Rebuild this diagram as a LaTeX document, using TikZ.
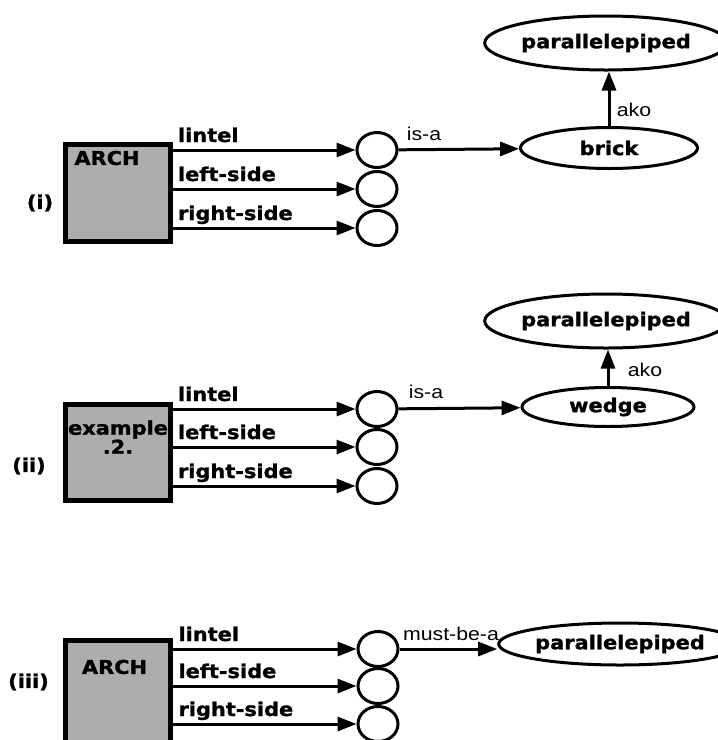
\documentclass[tikz,border=0pt]{standalone}
\usepackage{fontspec}
\setmainfont{Liberation Sans}
\newfontfamily\chicago{DejaVu Sans}[FakeStretch=1.1, FakeBold=1.3]
\newfontfamily\geneva{Liberation Sans}[FakeStretch=1.15]
\usetikzlibrary{arrows.meta,shapes.geometric}

\tikzset{
  boxtext/.style={font=\chicago\bfseries\fontsize{19}{20}\selectfont, inner sep=1pt},
  reltext/.style={font=\geneva\fontsize{18.5}{20}\selectfont, inner sep=1pt},
  frame/.style={draw, line width=5pt, fill=black!32, minimum width=105pt, inner sep=0pt},
  slot/.style={draw, ellipse, line width=3pt, minimum width=40pt, minimum height=35pt, inner sep=0pt},
  concept/.style={draw, ellipse, line width=3pt, fill=white, inner sep=0pt, boxtext},
  link/.style={line width=3pt, -{Triangle[length=19pt,width=14pt]}},
}

\begin{document}
\begin{tikzpicture}[x=1pt, y=-1pt]
\useasboundingbox (0,0) rectangle (718,740);
\clip (0,0) rectangle (718,740);

% (i) ARCH with brick lintel
\node [frame, minimum height=97pt] (arch1) at (117.5,192.5) {};
\node [boxtext] (name1) at (107,158) {ARCH};
\node [boxtext] (tag1) at (40,203) {(i)};
\foreach \n/\y/\t in {1/150/lintel, 2/189/left-side, 3/228/right-side}{
    \node [slot] (s1\n) at (377,\y) {};
    \draw [link] (arch1.east |- s1\n) -- node [boxtext, anchor=base west, pos=0, xshift=3pt, yshift=8pt] (r1\n) {\t} (s1\n);
}
\node [concept, minimum width=177pt, minimum height=41pt] (brick) at (609,148) {brick};
\node [concept, minimum width=203pt, minimum height=54pt] (par1) at (606,43) {parallelepiped};
\draw [link] (s11) -- (brick);
\draw [link] (brick.north) -- (brick.north |- par1.south);
\node [reltext] (isa1) at (424,134) {is-a};
\node [reltext] (ako1) at (634,110) {ako};

% (ii) example .2. with wedge lintel
\node [frame, minimum height=96pt] (arch2) at (117.5,452) {};
\node [boxtext, align=center] (name2) at (118,437) {example\\[-1pt].2.};
\node [boxtext] (tag2) at (29,466) {(ii)};
\foreach \n/\y/\t in {1/409/lintel, 2/447/left-side, 3/486/right-side}{
    \node [slot] (s2\n) at (377,\y) {};
    \draw [link] (arch2.east |- s2\n) -- node [boxtext, anchor=base west, pos=0, xshift=3pt, yshift=8pt] (r2\n) {\t} (s2\n);
}
\node [concept, minimum width=172pt, minimum height=39pt] (wedge) at (608,407) {wedge};
\node [concept, minimum width=203pt, minimum height=54pt] (par2) at (606,321) {parallelepiped};
\draw [link] (s21) -- (wedge);
\draw [link] (wedge.north) -- (wedge.north |- par2.south);
\node [reltext] (isa2) at (426,392) {is-a};
\node [reltext] (ako2) at (645,370) {ako};

% (iii) ARCH, lintel must be a parallelepiped
\node [frame, minimum height=118pt] (arch3) at (118,699) {};
\node [boxtext] (name3) at (114.5,667) {ARCH};
\node [boxtext] (tag3) at (28.5,682) {(iii)};
\foreach \n/\y/\t in {1/649/lintel, 2/686/left-side, 3/724/right-side}{
    \node [slot] (s3\n) at (378,\y) {};
    \draw [link] (arch3.east |- s3\n) -- node [boxtext, anchor=base west, pos=0, xshift=3pt, yshift=8pt] (r3\n) {\t} (s3\n);
}
\node [concept, minimum width=194pt, minimum height=42pt] (par3) at (620,644) {parallelepiped};
\draw [link] (s31) -- (s31 -| par3.west);
\node [reltext] (must3) at (451,634) {must-be-a};

\end{tikzpicture}
\end{document}
